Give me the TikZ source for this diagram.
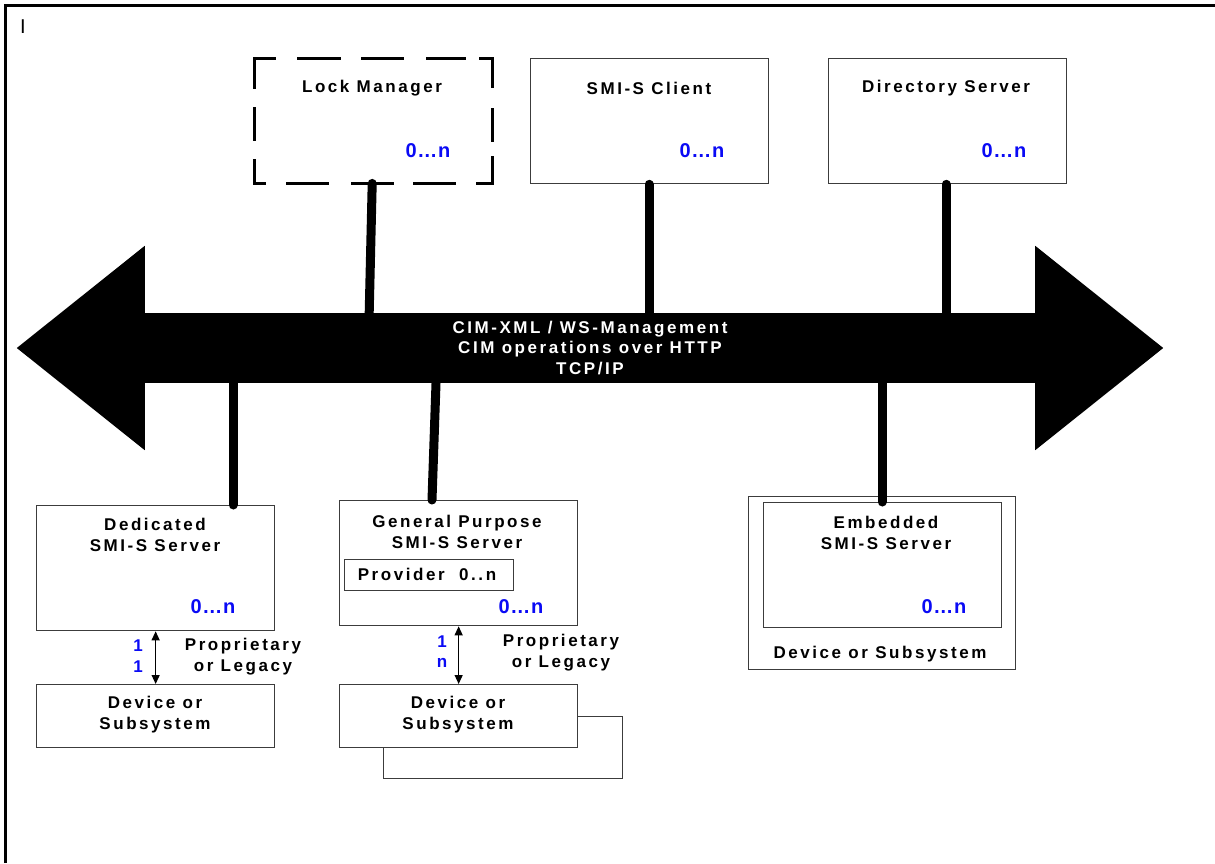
\documentclass[tikz,border=0pt]{standalone}
\usepackage{fontspec}
\setmainfont{Liberation Sans}
\newfontfamily\trackfont{Liberation Sans}[LetterSpace=15]
\newfontfamily\multfont{Liberation Sans}[LetterSpace=4]
\usetikzlibrary{calc,arrows.meta}
\definecolor{multblue}{RGB}{10,10,245}
\definecolor{edge}{RGB}{60,60,60}

\begin{document}
\begin{tikzpicture}[x=1pt,y=-1pt,
  box/.style={draw=edge, line width=1.3pt, fill=white, inner sep=0pt, anchor=north west},
  plainbox/.style={inner sep=0pt, anchor=north west},
  lockedge/.style={draw=black, line width=3pt, line cap=rect},
  lbl/.style={font=\trackfont\bfseries\fontsize{17}{21}\selectfont, align=center, inner sep=0pt},
  buslbl/.style={font=\trackfont\bfseries\fontsize{17}{20.5}\selectfont, align=center,
                 text=white, inner sep=0pt},
  mult/.style={font=\multfont\bfseries\fontsize{20}{22}\selectfont, text=multblue, inner sep=0pt},
  card/.style={font=\bfseries\fontsize{17}{21}\selectfont, text=multblue, inner sep=0pt},
  link/.style={line width=9pt, line cap=round},
  bidir/.style={line width=1.2pt, {Triangle[length=9pt,width=8pt]}-{Triangle[length=9pt,width=8pt]}}
]
\useasboundingbox (0,0) rectangle (1215,863);

% frame lines along the top and the left side
\draw[line width=3pt] (5,863) -- (5,5) -- (1215,5);
\node[font=\fontsize{20}{22}\selectfont, inner sep=0pt] (mark) at (23,27) {I};

% the management bus: a double-headed block arrow
\node[fill=black, minimum width=890pt, minimum height=70pt, inner sep=0pt] (bus) at (590,348) {};
\fill ($(bus.north west)+(0,-67)$) -- ($(bus.west)+(-128,0)$) -- ($(bus.south west)+(0,67)$) -- cycle;
\fill ($(bus.north east)+(0,-67)$) -- ($(bus.east)+(128,0)$) -- ($(bus.south east)+(0,67)$) -- cycle;
\node[buslbl] (bustext) at (590,348) {CIM-XML / WS-Management\\CIM operations over HTTP\\TCP/IP};

% upper row; the lock manager has a dashed outline drawn side by side
\node[plainbox, minimum width=238pt, minimum height=125pt] (lock) at (254,58) {};
\draw[lockedge, dash pattern=on 20pt off 24pt on 41pt off 23pt on 40pt off 25pt on 37pt off 16pt on 12pt]
  (lock.north west) -- (lock.north east);
\draw[lockedge, dash pattern=on 10pt off 23pt on 40pt off 25pt on 40pt off 22pt on 40pt off 23pt on 13pt]
  (lock.south west) -- (lock.south east);
\draw[lockedge, dash pattern=on 29pt off 21pt on 31pt off 21pt on 23pt]
  (lock.north west) -- (lock.south west);
\draw[lockedge, dash pattern=on 28pt off 23pt on 31pt off 17pt on 26pt]
  (lock.north east) -- (lock.south east);

\node[box, minimum width=238pt, minimum height=125pt] (client) at (530,58) {};
\node[box, minimum width=238pt, minimum height=125pt] (dir) at (828,58) {};

\node[lbl] (lockt) at (372,88) {Lock Manager};
\node[lbl] (clientt) at (649,88) {SMI-S Client};
\node[lbl] (dirt) at (946,88) {Directory Server};
\node[mult] (lockm) at (428,151) {0…n};
\node[mult] (clientm) at (702,151) {0…n};
\node[mult] (dirm) at (1004,151) {0…n};

\draw[link] ([xshift=-1pt]lock.south) -- ($(lock.south |- bus.north)+(-4,0)$);
\draw[link] (client.south -| 649,0) -- (bus.north -| 649,0);
\draw[link] (dir.south -| 946,0) -- (bus.north -| 946,0);

% dedicated server and its device
\node[box, minimum width=238pt, minimum height=125pt] (ded) at (36,505) {};
\node[lbl] (dedt) at (155,535) {Dedicated\\SMI-S Server};
\node[mult] (dedm) at (213,607) {0…n};
\node[box, minimum width=238pt, minimum height=63pt] (dev1) at (36,684) {};
\node[lbl] (dev1t) at (155,715) {Device or\\Subsystem};
\draw[bidir] (ded.south) -- (dev1.north);
\node[card] (c1a) at (138,646) {1};
\node[card] (c1b) at (138,667) {1};
\node[lbl] (prop1) at (243,657) {Proprietary\\or Legacy};
\draw[link] (bus.south -| 233,0) -- (ded.north -| 233,0);

% general purpose server, its provider and its devices
\node[box, minimum width=238pt, minimum height=125pt] (gp) at (339,500) {};
\node[lbl] (gpt) at (457,532) {General Purpose\\SMI-S Server};
\node[box, minimum width=169pt, minimum height=31pt] (prov) at (344,559) {};
\node[lbl] (provt) at (427,574.5) {Provider\ \ 0..n};
\node[mult] (gpm) at (521,607) {0…n};
\node[box, minimum width=239pt, minimum height=62pt] (dev2b) at (383,716) {};
\node[box, minimum width=238pt, minimum height=63pt] (dev2) at (339,684) {};
\node[lbl] (dev2t) at (458,715) {Device or\\Subsystem};
\draw[bidir] (gp.south) -- (dev2.north);
\node[card] (c2a) at (442,642) {1};
\node[card] (c2b) at (442,663) {n};
\node[lbl] (prop2) at (561,653) {Proprietary\\or Legacy};
\draw[link] ($(bus.south -| 436,0)$) -- (gp.north -| 432,0);

% embedded server inside its device
\node[box, minimum width=267pt, minimum height=173pt] (embdev) at (748,496) {};
\node[box, minimum width=238pt, minimum height=125pt] (emb) at (763,502) {};
\node[lbl] (embt) at (886,533) {Embedded\\SMI-S Server};
\node[mult] (embm) at (944,607) {0…n};
\node[lbl] (embdevt) at (880,654) {Device or Subsystem};
\draw[link] (bus.south -| 882,0) -- (emb.north -| 882,0);
\end{tikzpicture}
\end{document}
